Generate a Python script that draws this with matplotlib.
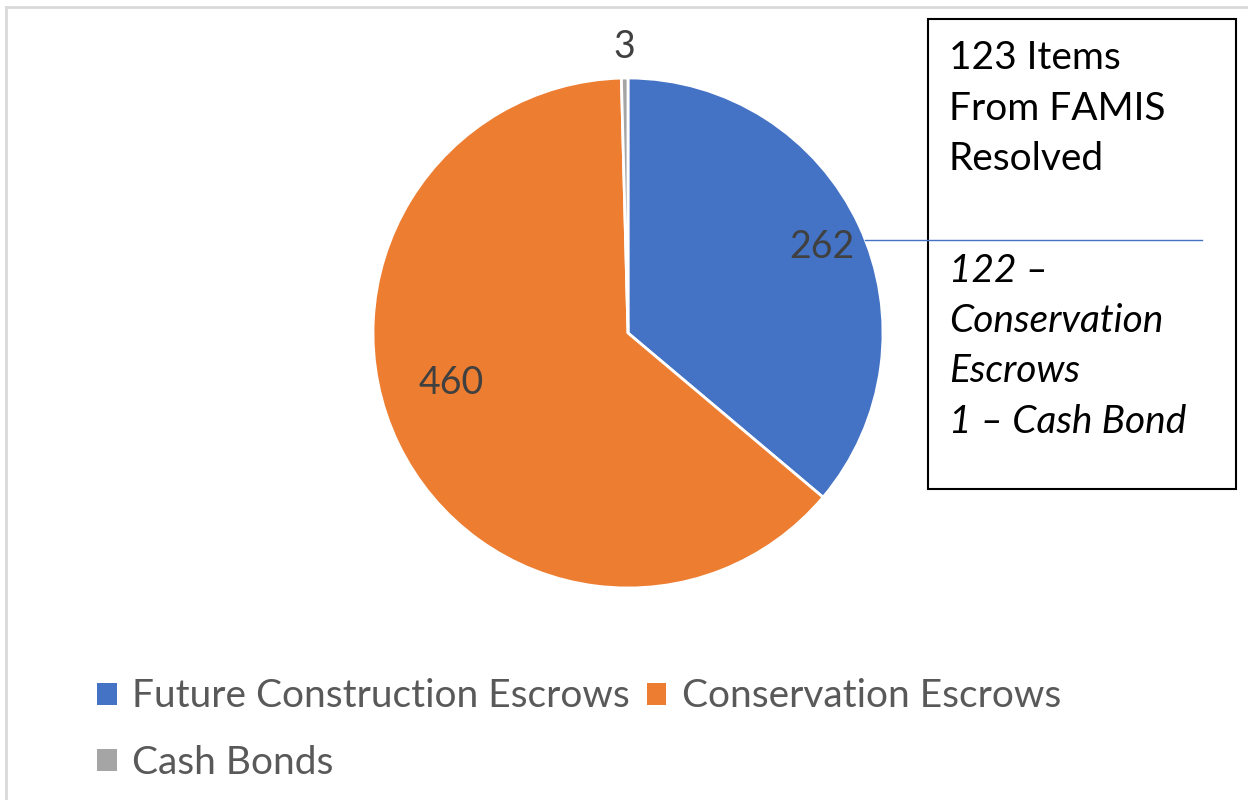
import numpy as np
import matplotlib.pyplot as plt
from matplotlib.patches import Rectangle
from matplotlib.lines import Line2D

labels = ['Future Construction Escrows', 'Conservation Escrows', 'Cash Bonds']
values = [262, 460, 3]
colors = ['#4472C4', '#ED7D31', '#A5A5A5']
box_title = '123 Items\nFrom FAMIS\nResolved'
box_detail = '122 \u2013\nConservation\nEscrows\n1 \u2013 Cash Bond'

plt.rcParams['font.family'] = ['Lato', 'DejaVu Sans']

fig = plt.figure(figsize=(12.48, 8), dpi=100)

# light grey chart border (only top and left are inside the picture)
fig.add_artist(Line2D([6/1248, 1], [1 - 7/800, 1 - 7/800], transform=fig.transFigure,
                      color='#D9D9D9', lw=2))
fig.add_artist(Line2D([6/1248, 6/1248], [0, 1 - 7/800], transform=fig.transFigure,
                      color='#D9D9D9', lw=2))

# pie axes: centre (628,333) px, radius 255 px
cx, cy, r = 628, 333, 255
ax = fig.add_axes([(cx - r) / 1248, (800 - cy - r) / 800, 2 * r / 1248, 2 * r / 800])
wedges, _ = ax.pie(values, colors=colors, startangle=90, counterclock=False,
                   wedgeprops=dict(edgecolor='white', linewidth=2))
ax.set_xlim(-1, 1)
ax.set_ylim(-1, 1)
ax.set_aspect('auto')
ax.axis('off')

# data labels (radius, extra angle offset in degrees)
label_pos = [(0.83, -1), (0.72, -10), (1.12, 0)]
for w, v, (rad, off) in zip(wedges, values, label_pos):
    ang = np.deg2rad((w.theta1 + w.theta2) / 2 + off)
    ax.text(rad * np.cos(ang), rad * np.sin(ang), str(v), ha='center', va='center',
            fontsize=27, color='#404040', clip_on=False)

# text box on the right (multi-line baseline = last line)
fig.add_artist(Rectangle((928/1248, 1 - 489/800), (1236 - 928)/1248, (489 - 19)/800,
                         transform=fig.transFigure, fill=False, edgecolor='black', lw=1.5))
fig.text(949/1248, 1 - 170/800, box_title, ha='left', va='baseline', fontsize=28,
         linespacing=1.5, color='black')
fig.text(949/1248, 1 - 433/800, box_detail, ha='left', va='baseline', fontsize=28,
         linespacing=1.5, color='black', style='italic')
fig.add_artist(Line2D([865/1248, 1202/1248], [1 - 240/800, 1 - 240/800],
                      transform=fig.transFigure, color='#4472C4', lw=1))

# legend: order so that Cash Bonds wraps to a second row
order = [0, 2, 1]
fig.legend([wedges[i] for i in order], [labels[i] for i in order], ncol=2,
           loc='upper left', bbox_to_anchor=(78/1248, 1 - 659/800), frameon=False,
           fontsize=28, labelcolor='#595959', handlelength=0.49, handleheight=0.49,
           handletextpad=0.4, columnspacing=0.45, labelspacing=0.78, borderpad=0)
for h in fig.legends[0].legend_handles:
    h.set_edgecolor('none')

fig.savefig('out.png', dpi=100)
